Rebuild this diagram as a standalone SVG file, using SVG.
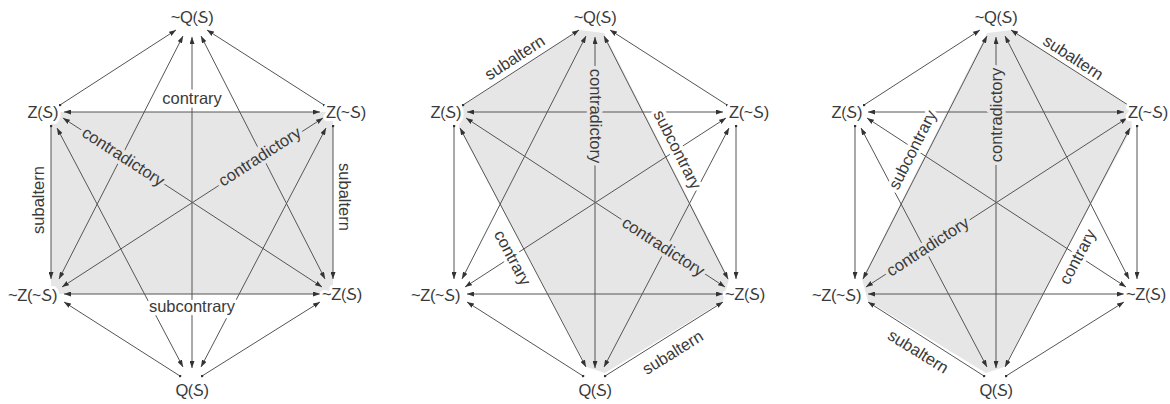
<svg xmlns="http://www.w3.org/2000/svg" width="1170" height="404" viewBox="0 0 1170 404">
<style>
.bg{fill:#ffffff}
.sh{fill:#e6e6e6;stroke:none}
.e{fill:none;stroke:#555;stroke-width:1}
.a2{marker-start:url(#ah);marker-end:url(#ah)}
.a1{marker-start:url(#dot);marker-end:url(#ah)}
.n{font-family:"Liberation Sans",Arial,sans-serif;font-size:16.5px;letter-spacing:-0.4px;fill:#3a3a3a;stroke:#fff;stroke-width:6;stroke-linejoin:round;paint-order:stroke}
.l{font-family:"Liberation Sans",Arial,sans-serif;font-size:16.5px;fill:#3a3a3a;text-anchor:middle}
.hw{stroke:#fff;stroke-width:7;stroke-linejoin:round;paint-order:stroke}
.hg{stroke:#e6e6e6;stroke-width:7;stroke-linejoin:round;paint-order:stroke}
.i{font-style:italic}
</style>
<defs>
<marker id="ah" viewBox="0 0 7 5" refX="7" refY="2.5" markerWidth="7" markerHeight="5" markerUnits="userSpaceOnUse" orient="auto-start-reverse">
<path d="M0,0 L7,2.5 L0,5 z" fill="#333"/>
</marker>
<marker id="dot" viewBox="0 0 4 4" refX="2" refY="2" markerWidth="3" markerHeight="3" markerUnits="userSpaceOnUse">
<circle cx="2" cy="2" r="1.8" fill="#333"/>
</marker>
</defs>
<rect class="bg" x="0" y="0" width="1170" height="404"/>

<!-- Panel 1 -->
<g id="panel1" transform="translate(192,0)">
<polygon class="sh" points="-141,112 141,112 141,294 -141,294"/>
<g id="p1-connectors">
<path class="e a1" d="M-132,105 L-16,30"/>
<path class="e a1" d="M132,105 L15,30"/>
<path class="e a2" d="M-9,36 L-133,279"/>
<path class="e a2" d="M9,36 L133,279"/>
<path class="e a2" d="M0,37 L0,368"/>
<path class="e a2" d="M-128,112 L128,112"/>
<path class="e a1" d="M-141,126 L-141,279"/>
<path class="e a1" d="M141,126 L141,279"/>
<path class="e a2" d="M-129,118 L130,287"/>
<path class="e a2" d="M131,118 L-130,287"/>
<path class="e a2" d="M-135,128 L-9,367"/>
<path class="e a2" d="M134,128 L9,367"/>
<path class="e a2" d="M-128,294 L128,294"/>
<path class="e a1" d="M-12,376 L-128,302"/>
<path class="e a1" d="M10,376 L128,302"/>
</g>
<g id="p1-labels">
<text class="l hw" x="0" y="104">contrary</text>
<text class="l hw" x="0" y="312">subcontrary</text>
<text class="l" transform="translate(-153,200) rotate(-90)" y="5">subaltern</text>
<text class="l" transform="translate(152,197) rotate(90)" y="5">subaltern</text>
<text class="l hg" transform="translate(-69,157) rotate(33)" y="5">contradictory</text>
<text class="l hg" transform="translate(68,157) rotate(-33)" y="5">contradictory</text>
</g>
<g id="p1-top"><text class="n" x="0" y="23" text-anchor="middle">~Q(<tspan class="i">S</tspan>)</text></g>
<g id="p1-ul"><text class="n" x="-134" y="118" text-anchor="end">Z(<tspan class="i">S</tspan>)</text></g>
<g id="p1-ur"><text class="n" x="134" y="118">Z(~<tspan class="i">S</tspan>)</text></g>
<g id="p1-ll"><text class="n" x="-135" y="301" text-anchor="end">~Z(~<tspan class="i">S</tspan>)</text></g>
<g id="p1-lr"><text class="n" x="130" y="300">~Z(<tspan class="i">S</tspan>)</text></g>
<g id="p1-bottom"><text class="n" x="0" y="396" text-anchor="middle">Q(<tspan class="i">S</tspan>)</text></g>
</g>

<!-- Panel 2 -->
<g id="panel2" transform="translate(595,0)">
<polygon class="sh" points="-134,107 -16,30 9,33 134,279 128,301 10,373 -8,367 -136,128"/>
<g id="p2-connectors">
<path class="e a1" d="M-132,105 L-16,30"/>
<path class="e a1" d="M132,105 L15,30"/>
<path class="e a2" d="M-9,36 L-133,279"/>
<path class="e a2" d="M9,36 L133,279"/>
<path class="e a2" d="M0,37 L0,368"/>
<path class="e a2" d="M-128,112 L128,112"/>
<path class="e a1" d="M-141,126 L-141,279"/>
<path class="e a1" d="M141,126 L141,279"/>
<path class="e a2" d="M-129,118 L130,287"/>
<path class="e a2" d="M131,118 L-130,287"/>
<path class="e a2" d="M-135,128 L-9,367"/>
<path class="e a2" d="M134,128 L9,367"/>
<path class="e a2" d="M-128,294 L128,294"/>
<path class="e a1" d="M-12,376 L-128,302"/>
<path class="e a1" d="M10,376 L128,302"/>
</g>
<g id="p2-labels">
<text class="l" transform="translate(-80,58) rotate(-33)" y="5">subaltern</text>
<text class="l hg" transform="translate(0,116) rotate(90)" y="5">contradictory</text>
<text class="l hw" transform="translate(82,150) rotate(63)" y="5">subcontrary</text>
<text class="l hg" transform="translate(68,247) rotate(33)" y="5">contradictory</text>
<text class="l hw" transform="translate(-83,258) rotate(62)" y="5">contrary</text>
<text class="l" transform="translate(78,353) rotate(-32)" y="5">subaltern</text>
</g>
<g id="p2-top"><text class="n" x="0" y="23" text-anchor="middle">~Q(<tspan class="i">S</tspan>)</text></g>
<g id="p2-ul"><text class="n" x="-134" y="118" text-anchor="end">Z(<tspan class="i">S</tspan>)</text></g>
<g id="p2-ur"><text class="n" x="134" y="118">Z(~<tspan class="i">S</tspan>)</text></g>
<g id="p2-ll"><text class="n" x="-135" y="301" text-anchor="end">~Z(~<tspan class="i">S</tspan>)</text></g>
<g id="p2-lr"><text class="n" x="130" y="300">~Z(<tspan class="i">S</tspan>)</text></g>
<g id="p2-bottom"><text class="n" x="0" y="396" text-anchor="middle">Q(<tspan class="i">S</tspan>)</text></g>
</g>

<!-- Panel 3 -->
<g id="panel3" transform="translate(996,0)">
<polygon class="sh" points="134,107 16,30 -9,33 -134,279 -128,301 -10,373 8,367 136,128"/>
<g id="p3-connectors">
<path class="e a1" d="M-132,105 L-16,30"/>
<path class="e a1" d="M132,105 L15,30"/>
<path class="e a2" d="M-9,36 L-133,279"/>
<path class="e a2" d="M9,36 L133,279"/>
<path class="e a2" d="M0,37 L0,368"/>
<path class="e a2" d="M-128,112 L128,112"/>
<path class="e a1" d="M-141,126 L-141,279"/>
<path class="e a1" d="M141,126 L141,279"/>
<path class="e a2" d="M-129,118 L130,287"/>
<path class="e a2" d="M131,118 L-130,287"/>
<path class="e a2" d="M-135,128 L-9,367"/>
<path class="e a2" d="M134,128 L9,367"/>
<path class="e a2" d="M-128,294 L128,294"/>
<path class="e a1" d="M-12,376 L-128,302"/>
<path class="e a1" d="M10,376 L128,302"/>
</g>
<g id="p3-labels">
<text class="l" transform="translate(77,58) rotate(33)" y="5">subaltern</text>
<text class="l hg" transform="translate(1,115) rotate(-90)" y="5">contradictory</text>
<text class="l hw" transform="translate(-83,150) rotate(-63)" y="5">subcontrary</text>
<text class="l hg" transform="translate(-68,247) rotate(-33)" y="5">contradictory</text>
<text class="l hw" transform="translate(82,257) rotate(-62)" y="5">contrary</text>
<text class="l" transform="translate(-78,352) rotate(32)" y="5">subaltern</text>
</g>
<g id="p3-top"><text class="n" x="0" y="23" text-anchor="middle">~Q(<tspan class="i">S</tspan>)</text></g>
<g id="p3-ul"><text class="n" x="-134" y="118" text-anchor="end">Z(<tspan class="i">S</tspan>)</text></g>
<g id="p3-ur"><text class="n" x="132" y="118">Z(~<tspan class="i">S</tspan>)</text></g>
<g id="p3-ll"><text class="n" x="-135" y="301" text-anchor="end">~Z(~<tspan class="i">S</tspan>)</text></g>
<g id="p3-lr"><text class="n" x="130" y="300">~Z(<tspan class="i">S</tspan>)</text></g>
<g id="p3-bottom"><text class="n" x="0" y="396" text-anchor="middle">Q(<tspan class="i">S</tspan>)</text></g>
</g>
</svg>
